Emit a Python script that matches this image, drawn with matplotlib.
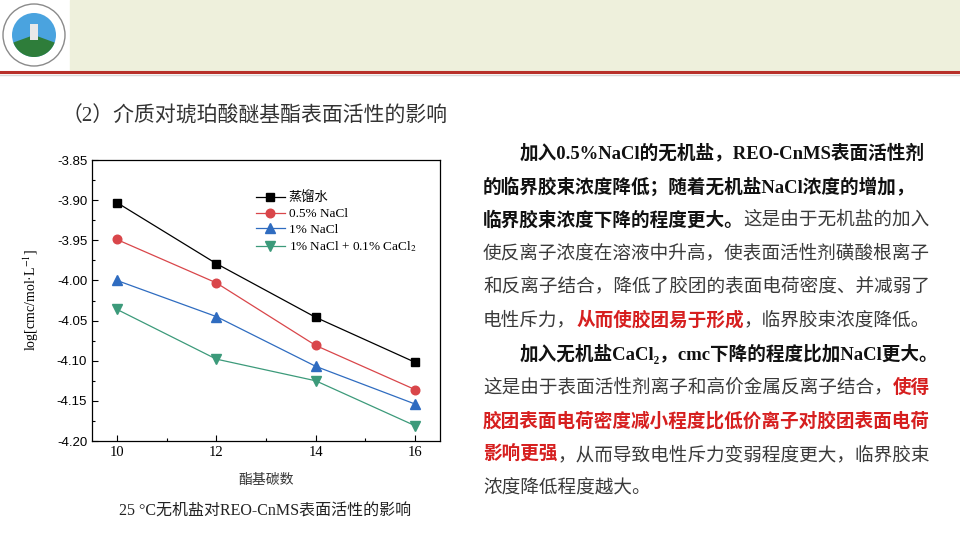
import matplotlib
matplotlib.use('Agg')
import matplotlib.pyplot as plt
from matplotlib.patches import Rectangle, Circle, Wedge
from matplotlib.lines import Line2D
from matplotlib.ticker import MultipleLocator, FormatStrFormatter

plt.rcParams['axes.unicode_minus'] = False
plt.rcParams['mathtext.fontset'] = 'stix'

# 数据
carbon = [10, 12, 14, 16]
water = [-3.903, -3.979, -4.046, -4.102]
nacl_05 = [-3.949, -4.003, -4.081, -4.136]
nacl_1 = [-4.000, -4.045, -4.107, -4.154]
nacl_cacl2 = [-4.036, -4.098, -4.125, -4.181]
series_labels = ['蒸馏水', '0.5% NaCl', '1% NaCl', '1% NaCl + 0.1% CaCl$_2$']

SERIF = ['Liberation Serif', 'Noto Sans CJK SC']
SANS_CJK = ['Noto Sans CJK SC', 'DejaVu Sans']
W, H = 960, 540

fig = plt.figure(figsize=(9.6, 5.4), dpi=100)
fig.patch.set_facecolor('white')

# шапка слайда
fig.patches.append(Rectangle((70 / W, 1 - 70 / H), 1 - 70 / W, 70 / H,
                             transform=fig.transFigure, color='#eef0dc', zorder=0))
fig.lines.append(Line2D([0, 1], [1 - 72 / H, 1 - 72 / H], transform=fig.transFigure,
                        color='#b8302a', lw=2.2))
fig.lines.append(Line2D([0, 1], [1 - 75 / H, 1 - 75 / H], transform=fig.transFigure,
                        color='#d8d8d8', lw=1))

# логотип
lax = fig.add_axes([0, 1 - 70 / H, 70 / W, 70 / H])
lax.set_xlim(0, 70)
lax.set_ylim(0, 70)
lax.axis('off')
lax.add_patch(Circle((34, 35), 31, facecolor='white', edgecolor='#8a8a8a', lw=1))
lax.add_patch(Circle((34, 35), 22, facecolor='#4aa3df', edgecolor='none'))
lax.add_patch(Wedge((34, 35), 22, 200, 340, facecolor='#2e7d3a', edgecolor='none'))
lax.add_patch(Rectangle((30, 30), 8, 16, facecolor='#e8e8e8', edgecolor='none'))

# заголовок
fig.text(62 / W, 1 - 117 / H, '（2）介质对琥珀酸醚基酯表面活性的影响', fontsize=15,
         family=SERIF, color='#333333', va='center', ha='left')

# график
ax = fig.add_axes([92 / W, 1 - 441 / H, 348 / W, 281 / H])
ax.plot(carbon, water, '-s', color='black', lw=0.9, ms=5.8, label=series_labels[0])
ax.plot(carbon, nacl_05, '-o', color='#d9464a', lw=0.9, ms=6.2, label=series_labels[1])
ax.plot(carbon, nacl_1, '-^', color='#2f6cc0', lw=0.9, ms=6.8, label=series_labels[2])
ax.plot(carbon, nacl_cacl2, '-v', color='#3c9a7a', lw=0.9, ms=6.8, label=series_labels[3])

ax.set_xlim(9.5, 16.5)
ax.set_ylim(-4.20, -3.85)
ax.set_xticks(carbon)
ax.xaxis.set_minor_locator(MultipleLocator(1))
ax.yaxis.set_major_locator(MultipleLocator(0.05))
ax.yaxis.set_minor_locator(MultipleLocator(0.025))
ax.yaxis.set_major_formatter(FormatStrFormatter('%.2f'))
ax.tick_params(which='both', direction='in', top=False, right=False)
ax.tick_params(which='major', length=4, width=0.8)
ax.tick_params(which='minor', length=2, width=0.8)
for lab in ax.get_yticklabels():
    lab.set_family('Liberation Sans')
    lab.set_fontsize(9.5)
for lab in ax.get_xticklabels():
    lab.set_family('Liberation Serif')
    lab.set_fontsize(10.5)
for sp in ax.spines.values():
    sp.set_linewidth(0.9)

ax.set_xlabel('酯基碳数', fontsize=10, family=SANS_CJK, color='#333333', labelpad=10)
ax.set_ylabel('log[cmc/mol·L$^{-1}$]', fontsize=10, family=SERIF, labelpad=11)

ax.legend(loc='upper left', bbox_to_anchor=(0.47, 0.887), frameon=False,
          prop={'family': SERIF, 'size': 9.5}, handlelength=2.2,
          labelspacing=0.25, borderpad=0, borderaxespad=0, handletextpad=0.3)

# подпись под графиком
fig.text(265 / W, 1 - 512 / H, '25 °C无机盐对REO-CnMS表面活性的影响', fontsize=11.5,
         family=SERIF, color='#222222', va='center', ha='center')

# текст справа
NORMAL, BOLD, RED = 'n', 'b', 'r'
styles = {
    NORMAL: dict(color='#3a3a3a', fontweight='normal'),
    BOLD: dict(color='#111111', fontweight='bold'),
    RED: dict(color='#d61f1f', fontweight='bold'),
}
para_lines = [
    (True, [('加入0.5%NaCl的无机盐，REO-CnMS表面活性剂', BOLD)]),
    (False, [('的临界胶束浓度降低；随着无机盐NaCl浓度的增加，', BOLD)]),
    (False, [('临界胶束浓度下降的程度更大。', BOLD), ('这是由于无机盐的加入', NORMAL)]),
    (False, [('使反离子浓度在溶液中升高，使表面活性剂磺酸根离子', NORMAL)]),
    (False, [('和反离子结合，降低了胶团的表面电荷密度、并减弱了', NORMAL)]),
    (False, [('电性斥力，', NORMAL), ('从而使胶团易于形成', RED), ('，临界胶束浓度降低。', NORMAL)]),
    (True, [('加入无机盐CaCl₂，cmc下降的程度比加NaCl更大。', BOLD)]),
    (False, [('这是由于表面活性剂离子和高价金属反离子结合，', NORMAL), ('使得', RED)]),
    (False, [('胶团表面电荷密度减小程度比低价离子对胶团表面电荷', RED)]),
    (False, [('影响更强', RED), ('，从而导致电性斥力变弱程度更大，临界胶束', NORMAL)]),
    (False, [('浓度降低程度越大。', NORMAL)]),
]
line_y = [153, 186.5, 220, 253.5, 287, 320.5, 354, 387.5, 421, 455, 488.5]

renderer = fig.canvas.get_renderer()
for (indent, segs), y in zip(para_lines, line_y):
    x = 520 if indent else 483
    for txt, st in segs:
        t = fig.text(x / W, 1 - y / H, txt, fontsize=13.4,
                     family=['Liberation Serif', 'Noto Sans CJK SC', 'DejaVu Sans'],
                     va='center', ha='left', **styles[st])
        bb = t.get_window_extent(renderer)
        x += bb.width

fig.savefig('out.png', dpi=100)
